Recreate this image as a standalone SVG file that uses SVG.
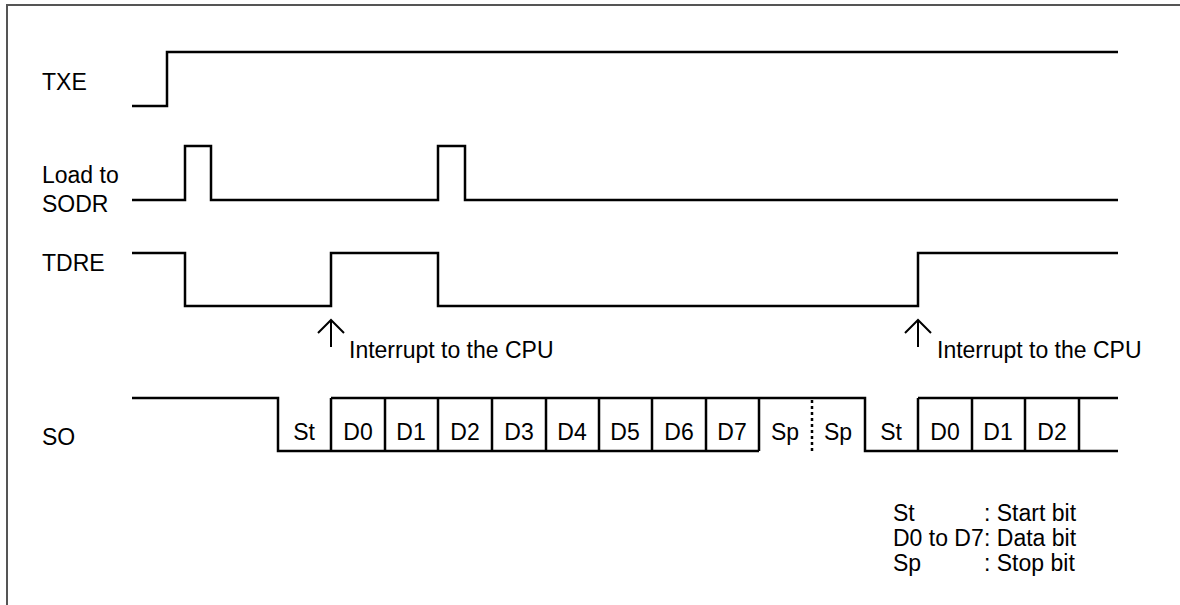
<svg xmlns="http://www.w3.org/2000/svg" width="1180" height="605" viewBox="0 0 1180 605">
<style>
.sig{fill:none;stroke:#000;stroke-width:2.5;stroke-linejoin:miter}
.tk{fill:none;stroke:#000;stroke-width:2}
.dot{fill:none;stroke:#000;stroke-width:2.5;stroke-dasharray:3,3}
text{font-family:"Liberation Sans",Arial,sans-serif;font-size:23px;fill:#000}
.c{text-anchor:middle}
</style>
<rect width="1180" height="605" fill="#fff"/>
<path d="M7,605 V5 H1180" fill="none" stroke="#555" stroke-width="2"/>
<g id="txe">
<text x="42" y="90">TXE</text>
<path class="sig" d="M132,106 H167 V52 H1118"/>
</g>
<g id="load">
<text x="42" y="183">Load to</text>
<text x="42" y="212">SODR</text>
<path class="sig" d="M132,200 H185 V146 H211 V200 H438 V146 H465 V200 H1118"/>
</g>
<g id="tdre">
<text x="42" y="271">TDRE</text>
<path class="sig" d="M132,253 H185 V306 H331 V253 H438 V306 H918 V253 H1118"/>
</g>
<g id="connectors">
<g id="int1">
<path class="tk" d="M331,347 V320 M318,333 L331,320 L344,333"/>
<text x="349" y="358">Interrupt to the CPU</text>
</g>
<g id="int2">
<path class="tk" d="M918,347 V320 M905,333 L918,320 L931,333"/>
<text x="937" y="358">Interrupt to the CPU</text>
</g>
</g>
<g id="so">
<text x="42" y="445">SO</text>
<path class="sig" d="M132,398 H278 V451 H759"/>
<path class="sig" d="M331,398 H865 V451 H918"/>
<path class="sig" d="M918,398 H1118 M918,451 H1118"/>
<path class="sig" d="M331,398 V451 M385,398 V451 M438,398 V451 M492,398 V451 M546,398 V451 M599,398 V451 M652,398 V451 M706,398 V451 M759,398 V451 M918,398 V451 M972,398 V451 M1025,398 V451 M1079,398 V451"/>
<path class="dot" d="M812,400 V451"/>
<text class="c" x="304" y="440">St</text>
<text class="c" x="358" y="440">D0</text>
<text class="c" x="411" y="440">D1</text>
<text class="c" x="465" y="440">D2</text>
<text class="c" x="519" y="440">D3</text>
<text class="c" x="572" y="440">D4</text>
<text class="c" x="625" y="440">D5</text>
<text class="c" x="679" y="440">D6</text>
<text class="c" x="732" y="440">D7</text>
<text class="c" x="785" y="440">Sp</text>
<text class="c" x="838" y="440">Sp</text>
<text class="c" x="891" y="440">St</text>
<text class="c" x="945" y="440">D0</text>
<text class="c" x="998" y="440">D1</text>
<text class="c" x="1052" y="440">D2</text>
</g>
<g id="legend">
<text x="893" y="521">St</text>
<text x="984" y="521">: Start bit</text>
<text x="893" y="546">D0 to D7</text>
<text x="984" y="546">: Data bit</text>
<text x="893" y="571">Sp</text>
<text x="984" y="571">: Stop bit</text>
</g>
</svg>
